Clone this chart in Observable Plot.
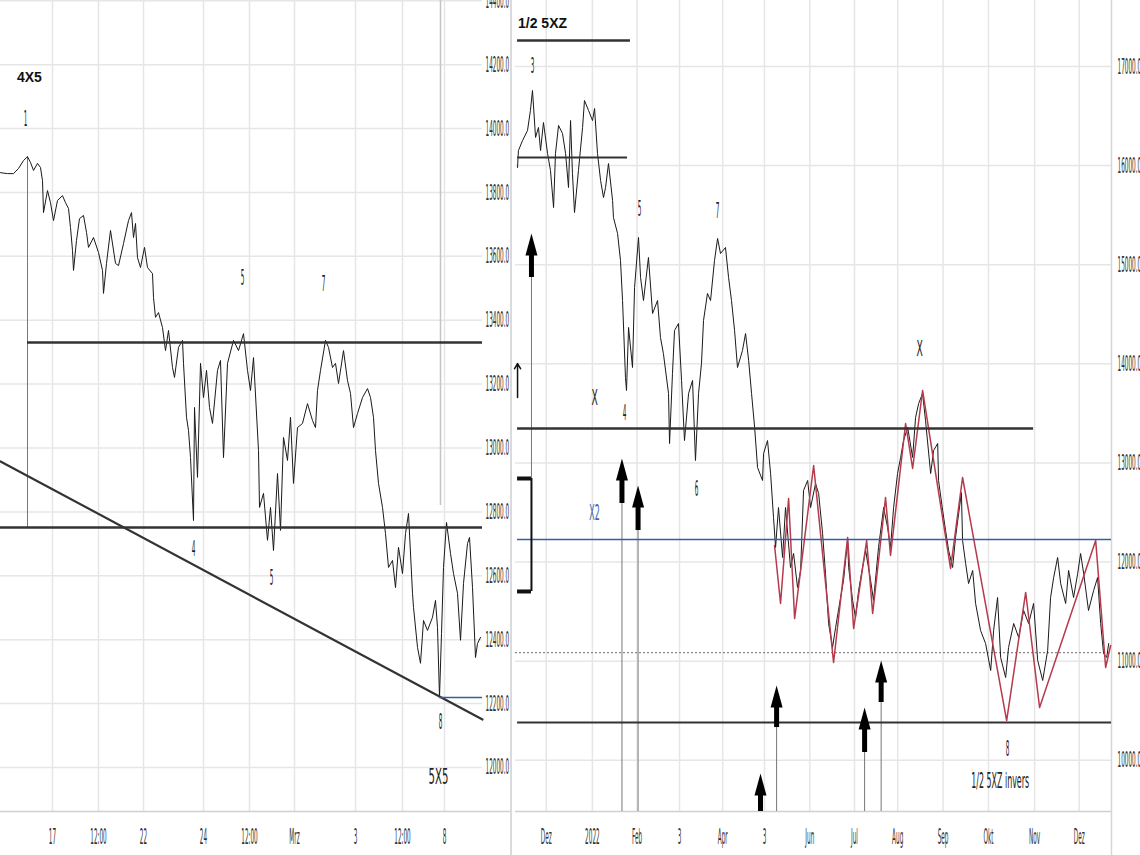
<!DOCTYPE html>
<html><head><meta charset="utf-8">
<script src="https://cdn.jsdelivr.net/npm/d3@7"></script>
<script src="https://cdn.jsdelivr.net/npm/@observablehq/plot@0.6"></script>
<style>
html,body{margin:0;padding:0;background:#fff;}
#wrap{position:relative;width:1140px;height:855px;overflow:hidden;background:#fff;}
#left{position:absolute;left:0;top:0;}
#right{position:absolute;left:512px;top:0;}
.title{position:absolute;font-family:"Liberation Sans",Arial,sans-serif;font-weight:bold;font-size:14px;color:#111;line-height:16px;}
.sep{position:absolute;left:510px;top:0;width:1.5px;height:855px;background:#dadada;}
</style></head><body>
<div id="wrap">
<div id="left"></div><div id="right"></div><div class="sep"></div>
<div class="title" style="left:17px;top:69px">4X5</div>
<div class="title" style="left:518px;top:15px">1/2 5XZ</div>
</div>
<script>
// ---------- LEFT PANEL (intraday, 4X5) ----------
const leftIdx = [0,3.5,6.5,9,11.5,13.5,15,16.5,18.5,20,21,21.5,23.5,25,26.5,28.5,31,32.5,34,35,36,36.5,38,39.5,41.5,43,44,46.5,49,51,51.5,53,55,57.5,59,61.5,64,65.5,66.5,67.5,68.5,70,72,73.5,76,76.5,77.5,79,81,82.5,84,86,87,89,91,91.5,93,94,95,96.5,97,98.5,100,101.5,103,104.5,106,108.5,110,111.5,113.5,116.5,119,121.5,123.5,125,126.5,129,129.5,131.5,133.5,135,136.5,138.5,140,141.5,143.5,145,146.5,148.5,151,153.5,156,157.5,158.5,160,162.5,164,166,167.5,169,171.5,173.5,175,176.5,178.5,181,183.5,185,186.5,187.5,189,191,192.5,194,196,197.5,199,201,202.5,204,206,206.5,208.5,210,211.5,213.5,216,217.5,218.5,219.5,220.5,221.5,223,225,226.5,228.5,230,231.5,233.5,234.5,236,237.5,238.5,240];
const leftVal = [13862,13859,13859,13875,13900,13912,13894,13869,13891,13878,13837,13737,13806,13768,13712,13775,13790,13768,13750,13690,13618,13556,13650,13718,13728,13675,13628,13659,13612,13556,13484,13578,13681,13578,13571,13640,13712,13737,13659,13703,13596,13565,13628,13565,13546,13471,13409,13424,13377,13305,13368,13252,13221,13315,13337,13265,13096,13055,12970,12773,13127,12908,13265,13158,13243,13127,13077,13243,13274,12970,13265,13337,13305,13358,13243,13180,13283,12992,12814,12858,12711,12814,12679,12920,12742,13033,12961,13096,12889,13064,13077,13139,13086,13064,13180,13243,13337,13315,13252,13265,13202,13305,13211,13171,13064,13108,13158,13186,13158,13096,12992,12889,12814,12732,12626,12648,12563,12689,12607,12732,12795,12545,12501,12376,12326,12460,12429,12470,12523,12438,12219,12419,12626,12767,12670,12607,12545,12398,12576,12701,12720,12563,12344,12388,12407];
const leftTickPos = [26,49,71.5,101.5,124.5,147,177.5,201,222];
const leftTickLab = ["17","12:00","22","24","12:00","Mrz","3","12:00","8"];
const leftYTicks = [12000,12200,12400,12600,12800,13000,13200,13400,13600,13800,14000,14200,14400];
const leftDomainX = [0,241];
const leftDomainY = [11862,14401];
const leftUpperLevel = 13330, leftUpperFrom = 13.5;
const leftLowerLevel = 12751;
const leftTrendIdx = [0,241], leftTrendVal = [12958,12150];
const leftBlueLevel = 12219, leftBlueFrom = 219.5;
const leftMarkIdx = 13.5, leftMarkTop = 13912;
const leftBarIdx = 220, leftBarBottom = 12820;
const leftLabText = ["1","5","7","4","5","8","5X5"];
const leftLabIdx = [12.5,121,161.5,96.5,135.5,220,219];
const leftLabVal = [14031,13531,13515,12685,12592,12141,11969];

// ---------- RIGHT PANEL (daily, 1/2 5XZ) ----------
const rightDay = [1.4,2,4.8,8.2,10.2,11.6,13.7,15.7,17.1,19.1,21.9,23.9,26,27.3,29.4,32.1,34.2,36.2,37.6,38.9,40.3,43,45.8,47.1,49.9,52.6,54,56,58.1,60.1,61.5,63.5,66.3,66.9,69.7,71.7,73.1,75.1,75.8,77.2,79.9,81.3,84,85.4,87.4,90.8,93.6,97,99,101,104.5,105.2,107.2,108.6,111.3,113.4,115.4,118.2,120.9,122.9,125,127,128.4,131.1,133.2,135.9,138,140,143.4,145.5,147.5,149.6,151.6,155,157.1,159.2,161.2,163.3,165.3,168.7,169.4,172.1,174.2,176.2,177.6,179.6,182.4,184.4,187.8,189.9,192.6,194.7,196.7,199.5,201.5,204.9,207,209.7,211.7,213.8,216.5,218.6,222,224,226.8,227.5,230.2,232.2,234.3,237,239.1,242.5,244.5,247.9,251.4,254.1,256.1,258.2,260.9,263,265,267.8,271.2,273.2,275.3,278,280,283.5,285.5,288.3,288.9,291.7,293.7,295.8,298.5,300.5,304.5,305.3,307.4,309.4,312.2,314.2,317.6,321,324.5,326.5,329.2,331.3,334.7,336.7,340.2,343.6,347,350.4,353.8,356.6,360,363.4,365.4,367.5,370.2,372.3,375.7,377.7,381.1,383.9,385.9,388,391.3,394.8,397.5,399.6,401.6,403.7,405.1];
const rightVal = [15981,16152,16253,16354,16556,16758,16284,16385,16152,16435,16122,15951,15577,16122,16405,16324,16122,15779,16455,15920,15527,15951,16385,16657,16556,16455,16576,16122,15850,15678,15779,16021,15648,15476,15315,15043,14639,13862,13731,14367,13963,14770,15275,14871,14639,15073,14508,14639,14266,14104,13701,13196,13902,14336,14407,13832,13226,13701,13832,13025,13701,14003,14437,14710,14639,15043,15265,15113,15174,14871,14639,14336,13963,14134,14306,14034,13701,13358,12954,12823,13095,13226,12893,12449,12147,12550,12046,12550,11945,12086,11743,11915,12722,12823,12550,12792,12692,12288,11884,11380,11138,11340,11642,11814,12217,11945,11612,11440,11713,11945,12116,11814,11612,12147,12550,12349,12147,12550,12893,13055,13226,13358,13055,13458,13600,13701,13428,12893,13125,13196,12823,12520,12318,12116,11945,12248,12700,12217,11985,11783,11915,11582,11309,11178,10906,11309,11642,11037,10835,11138,11380,11239,11511,11380,11582,11007,10805,11107,11642,11844,12046,11783,11582,11915,11642,11884,12086,11884,11511,11713,11844,11380,11077,11037,11178];
const redDay = [176.9,181,186.5,190.6,203.6,217.2,226.8,230.9,239.8,243.9,252.7,256.1,266.4,271.2,278,297.1,305.3,335.4,348.4,357.9,396.2,403,406.4];
const redVal = [12167,11582,12641,11430,12974,10986,12248,11329,12217,11481,12651,12066,13398,12944,13731,11935,12853,10401,11693,10532,12217,10936,11158];
const monthDay = [21,52.5,83,112,141.5,170,201,231.5,261,292,323,354.5,385];
const monthLab = ["Dez","2022","Feb","3","Apr","3","Jun","Jul","Aug","Sep","Okt","Nov","Dez"];
const rightYTicks = [10000,11000,12000,13000,14000,15000,16000,17000];
const rightDomainX = [0,407];
const rightDomainY = [9483,17666];
const topLineVal = 17262, topLineTo = 78.5;
const startLineVal = 16082, startLineTo = 76.5;
const midLineVal = 13347, midLineTo = 353.8;
const lineFrom = 1.4;
const blueVal = 12227;
const dottedVal = 11087;
const baseLineVal = 10380;
const arrowDay  = [10.9,72.7,83.7,167.3,178.3,238.4,249.7];
const arrowTip  = [15315,13045,12772,9866,10754,10532,11006];
const arrowBase = [14871,12591,12318,9483,10330,10078,10583];
const arrowEnd  = [12843,9483,9483,9483,9483,9483,9483];
const bracketDay = [1.4,10.9], bracketTop = 12843, bracketBottom = 11703;
const smallArrow = {day:1.4, from:13660, to:14003};
const rightLabText = ["3","5","7","X","4","6","X","8","1/2 5XZ invers"];
const rightLabDay  = [11.6,84.7,138,54,74.5,123.6,276,336,331];
const rightLabVal  = [17010,15567,15547,13660,13509,12742,14155,10119,9796];
const blueLab = {text:"X2", day:54, val:12500};

// ---------- helpers ----------
const gridStyle = {stroke:"#e6e6e6", strokeOpacity:1, strokeWidth:1.5};
const fmt = d3.format(".1f");
const headSymbol = {draw(ctx){ctx.moveTo(0,0);ctx.lineTo(-6,22);ctx.lineTo(6,22);ctx.closePath();}};
function condense(svg){
  const special = {"1/2 5XZ invers":0.36,"X":0.42,"X2":0.36,"5X5":0.46};
  svg.querySelectorAll("text").forEach(t=>{
    const s = special[t.textContent.trim()] ?? 0.26;
    const tr = t.getAttribute("transform") || "";
    t.setAttribute("transform", tr + ` scale(${s},1)`);
  });
}

const leftData = leftIdx.map((x,i)=>({x, y:leftVal[i]}));
const leftLabs = leftLabText.map((t,i)=>({t, x:leftLabIdx[i], y:leftLabVal[i]}));

const L = Plot.plot({
  width:511, height:855, marginLeft:0, marginRight:29, marginTop:0, marginBottom:44,
  style:{background:"transparent", fontFamily:"DejaVu Sans, sans-serif", fontSize:"22px", color:"#333"},
  x:{domain:leftDomainX, label:null},
  y:{domain:leftDomainY, label:null},
  marks:[
    Plot.gridX(leftTickPos, gridStyle),
    Plot.gridY(leftYTicks, gridStyle),
    Plot.ruleY([leftDomainY[0]], {stroke:"#d0d0d0", strokeWidth:1.5, insetRight:-29}),
    Plot.axisX(leftTickPos, {tickSize:0, tickPadding:17, tickFormat:d=>leftTickLab[leftTickPos.indexOf(d)], label:null}),
    Plot.axisY(leftYTicks, {anchor:"right", tickSize:0, tickPadding:3, tickFormat:fmt, label:null}),
    Plot.ruleX([leftBarIdx], {y1:leftBarBottom, y2:leftDomainY[1], stroke:"#c4c4c4", strokeWidth:1.5}),
    Plot.ruleX([leftMarkIdx], {y1:leftLowerLevel, y2:leftMarkTop, stroke:"#777", strokeWidth:1}),
    Plot.line(leftData, {x:"x", y:"y", stroke:"#1a1a1a", strokeWidth:1}),
    Plot.ruleY([leftUpperLevel], {x1:leftUpperFrom, x2:leftDomainX[1], stroke:"#333", strokeWidth:2.5}),
    Plot.ruleY([leftLowerLevel], {x1:leftDomainX[0], x2:leftDomainX[1], stroke:"#333", strokeWidth:2.5}),
    Plot.line(leftTrendIdx.map((x,i)=>({x, y:leftTrendVal[i]})), {x:"x", y:"y", stroke:"#333", strokeWidth:2.2}),
    Plot.ruleY([leftBlueLevel], {x1:leftBlueFrom, x2:leftDomainX[1], stroke:"#3b5ba8", strokeWidth:1.5}),
    Plot.text(leftLabs, {x:"x", y:"y", text:"t", fill:"#222"})
  ]
});
condense(L);
document.getElementById("left").appendChild(L);

const rightData = rightDay.map((x,i)=>({x, y:rightVal[i]}));
const redData = redDay.map((x,i)=>({x, y:redVal[i]}));
const arrows = arrowDay.map((x,i)=>({x, tip:arrowTip[i], base:arrowBase[i], end:arrowEnd[i]}));
const rightLabs = rightLabText.map((t,i)=>({t, x:rightLabDay[i], y:rightLabVal[i]}));

const R = Plot.plot({
  width:628, height:855, marginLeft:3, marginRight:29, marginTop:0, marginBottom:44,
  style:{background:"transparent", fontFamily:"DejaVu Sans, sans-serif", fontSize:"22px", color:"#333"},
  x:{domain:rightDomainX, label:null},
  y:{domain:rightDomainY, label:null},
  marks:[
    Plot.gridX(monthDay, gridStyle),
    Plot.gridY(rightYTicks, gridStyle),
    Plot.ruleY([rightDomainY[0]], {stroke:"#d0d0d0", strokeWidth:1.5}),
    Plot.ruleX([rightDomainX[1]], {stroke:"#d6d6d6", strokeWidth:1.5, insetBottom:-44}),
    Plot.axisX(monthDay, {tickSize:0, tickPadding:17, tickFormat:d=>monthLab[monthDay.indexOf(d)], label:null}),
    Plot.axisY(rightYTicks, {anchor:"right", tickSize:0, tickPadding:6, tickFormat:fmt, label:null}),
    Plot.ruleY([dottedVal], {stroke:"#888", strokeWidth:1.2, strokeDasharray:"2,2"}),
    Plot.ruleX(arrows, {x:"x", y1:"end", y2:"base", stroke:"#777", strokeWidth:1}),
    Plot.line(rightData, {x:"x", y:"y", stroke:"#1a1a1a", strokeWidth:1}),
    Plot.line(redData, {x:"x", y:"y", stroke:"#b53a4c", strokeWidth:1.5}),
    Plot.ruleY([topLineVal], {x1:lineFrom, x2:topLineTo, stroke:"#333", strokeWidth:2.5}),
    Plot.ruleY([startLineVal], {x1:lineFrom, x2:startLineTo, stroke:"#333", strokeWidth:2}),
    Plot.ruleY([midLineVal], {x1:lineFrom, x2:midLineTo, stroke:"#333", strokeWidth:2.5}),
    Plot.ruleY([blueVal], {x1:lineFrom, x2:rightDomainX[1], stroke:"#3b5ba8", strokeWidth:1.5}),
    Plot.ruleY([baseLineVal], {x1:lineFrom, x2:rightDomainX[1], stroke:"#333", strokeWidth:2}),
    Plot.ruleX(arrows, {x:"x", y1:"base", y2:d=>d.tip-110, stroke:"#000", strokeWidth:5}),
    Plot.dot(arrows, {x:"x", y:"tip", symbol:headSymbol, fill:"#000", stroke:null, r:6}),
    Plot.ruleY([bracketTop, bracketBottom], {x1:bracketDay[0], x2:bracketDay[1], stroke:"#111", strokeWidth:4}),
    Plot.ruleX([bracketDay[1]], {y1:bracketBottom, y2:bracketTop, stroke:"#111", strokeWidth:2}),
    Plot.arrow([smallArrow], {x1:"day", x2:"day", y1:"from", y2:"to", stroke:"#111", strokeWidth:1.5, headLength:6}),
    Plot.text(rightLabs, {x:"x", y:"y", text:"t", fill:"#222"}),
    Plot.text([blueLab], {x:"day", y:"val", text:"text", fill:"#3b63b5"})
  ]
});
condense(R);
document.getElementById("right").appendChild(R);
</script>
</body></html>
